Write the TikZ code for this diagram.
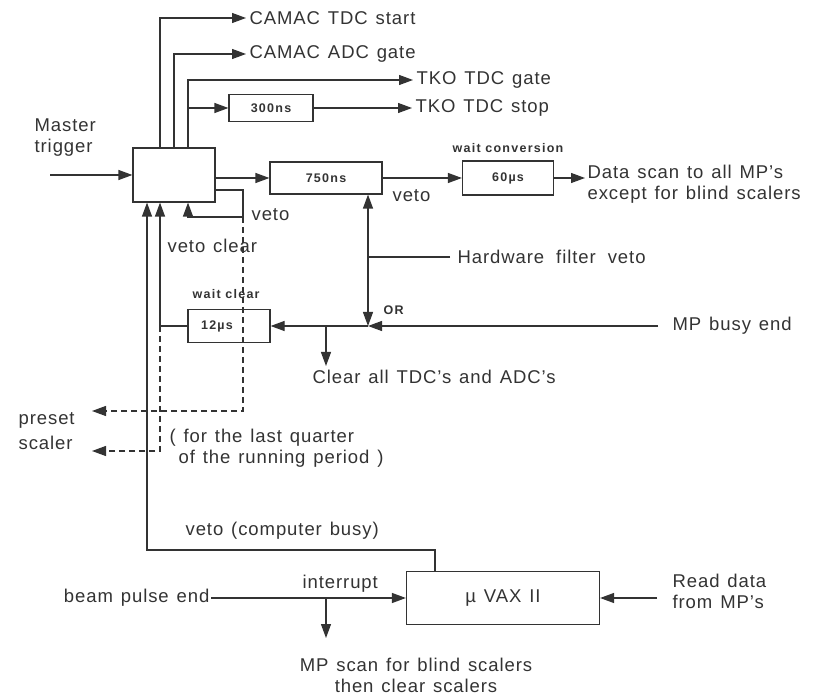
\documentclass[tikz,border=0pt]{standalone}
\usepackage{fontspec}
\setmainfont{Liberation Sans}[LetterSpace=5,WordSpace=1.3]
\newfontfamily\smallfam{Liberation Sans}[LetterSpace=10]
\usetikzlibrary{arrows.meta,calc}
\definecolor{ink}{gray}{0.2}
\newcommand\bigf{\fontsize{18.5}{21}\selectfont}
\newcommand\smallf{\smallfam\bfseries\fontsize{12.5}{14}\selectfont}
\tikzset{
  blk/.style={draw=ink,line width=1.2pt,inner sep=0pt,font=\smallf},
  lbl/.style={inner ysep=0pt,inner xsep=3pt,text=ink,font=\bigf},
  sml/.style={inner sep=0pt,text=ink,font=\smallf},
  dsh/.style={dash pattern=on 6pt off 4pt},
}
\begin{document}
\begin{tikzpicture}[x=1pt,y=-1pt,>={Triangle[length=14pt,width=10pt]},line width=1.2pt,color=ink]
\useasboundingbox[fill=white] (0,0) rectangle (820,700);
% boxes
\node[blk,minimum width=82pt,minimum height=54pt] (trig) at (174,175) {};
\node[blk,minimum width=84pt,minimum height=27pt] (dA) at (271,108) {300ns};
\node[blk,minimum width=112pt,minimum height=32pt] (dB) at (326,178) {750ns};
\node[blk,minimum width=91pt,minimum height=34pt] (dC) at (508,178) {60µs};
\node[blk,minimum width=82pt,minimum height=33pt] (wc) at (229,326) {};
\node[sml] (wctxt) at (217,326) {12µs};
\node[blk,minimum width=193pt,minimum height=53pt,font=\bigf] (vax) at (503,598) {µ VAX II};
% texts
\node[lbl,anchor=north west,align=left] (mtrig) at (31,118) {Master\\trigger};
\node[lbl,anchor=west] (tdcstart) at (246,18) {CAMAC TDC start};
\node[lbl,anchor=west] (adcgate) at (246,54) {CAMAC ADC gate};
\node[lbl,anchor=west] (tkogate) at (413,80) {TKO TDC gate};
\node[lbl,anchor=west] (tkostop) at (412,108) {TKO TDC stop};
\node[sml,anchor=base west] (waitconv) at (452,153) {wait conversion};
\node[lbl,anchor=north west,align=left,inner xsep=2pt] (datascan) at (585,164) {Data scan to all MP's\\except for blind scalers};
\node[lbl,anchor=base west] (veto1) at (389,202) {veto};
\node[lbl,anchor=base west] (veto2) at (248,221) {veto};
\node[lbl,anchor=base west] (vetoclr) at (164,253) {veto clear};
\node[sml,anchor=base west] (waitclr) at (192,299) {wait clear};
\node[lbl,anchor=west,inner xsep=7pt] (hwveto) at (450,257) {Hardware\hspace{12pt}filter\hspace{12pt}veto};
\node[sml,anchor=base west] (ortxt) at (383,315) {OR};
\node[lbl,anchor=west,inner xsep=14pt] (mpbusy) at (658,326) {MP busy end};
\node[lbl,anchor=north west,inner ysep=3pt] (clearall) at (309,366) {Clear all TDC's and ADC's};
\node[lbl,anchor=north west,align=left] (preset) at (15,412) {preset\\[4pt]scaler};
\node[lbl,anchor=north west,align=left] (lastq) at (166,428) {( for the last quarter\\\hspace*{9pt}of the running period )};
\node[lbl,anchor=base west] (vetobusy) at (182,536) {veto (computer busy)};
\node[lbl,anchor=base west] (intr) at (299,589) {interrupt};
\node[lbl,anchor=east,inner xsep=1pt] (beam) at (211,598) {beam pulse end};
\node[lbl,anchor=north,align=center] (mpscan) at (416,657) {MP scan for blind scalers\\then clear scalers};
\node[lbl,anchor=north west,align=left,inner xsep=15pt] (readdata) at (657,573) {Read data\\from MP's};
% junctions
\coordinate (mtin) at (50,175);
\coordinate (tj) at (188,108);
\coordinate (vj) at (243,217);
\coordinate (vcj) at (160,326);
\coordinate (hwj) at (368,257);
\coordinate (orj) at (368,326);
\coordinate (clj) at (326,326);
\coordinate (preA) at (92,411);
\coordinate (preB) at (92,451);
\coordinate (busyj) at (435,550);
\coordinate (bj) at (326,598);
% trigger outputs
\draw[->] (mtin) -- (trig.west |- mtin);
\foreach \dx/\nm in {-14/tdcstart,0/adcgate,14/tkogate}
  \draw[->] ([xshift=\dx pt]trig.north) |- (\nm.west);
\draw[->] (tj) -- (dA.west);
\draw[->] (dA.east) -- (tkostop.west);
\draw[->] (trig.east |- dB.west) -- (dB.west);
\draw[->] (dB.east) -- (dC.west);
\draw[->] (dC.east) -- (dC.east -| datascan.west);
% veto and veto clear
\draw[->] ([yshift=-15pt]trig.east) -| (vj) -| ([xshift=14pt]trig.south);
\draw[dsh,->] (vj) |- (preA);
\draw[->] (wc.west) -- (vcj) -- ([xshift=-14pt]trig.south);
\draw[dsh,->] (vcj) |- (preB);
% hardware filter, OR
\draw (hwveto.west) -- (hwj);
\draw[->] (hwj) -- (hwj |- dB.south);
\draw[->] (hwj) -- (orj);
\draw[->] (mpbusy.west) -- (orj);
\draw[->] (orj) -- (wc.east);
\draw[->] (clj) -- (clj |- clearall.north);
% computer
\draw[->] (vax.north -| busyj) -- (busyj) -| ([xshift=-27pt]trig.south);
\draw[->] (beam.east) -- (vax.west |- beam.east);
\draw[->] (bj) -- ($(bj |- mpscan.north)+(0,-19)$);
\draw[->] (vax.east -| readdata.west) -- (vax.east);
\end{tikzpicture}
\end{document}
